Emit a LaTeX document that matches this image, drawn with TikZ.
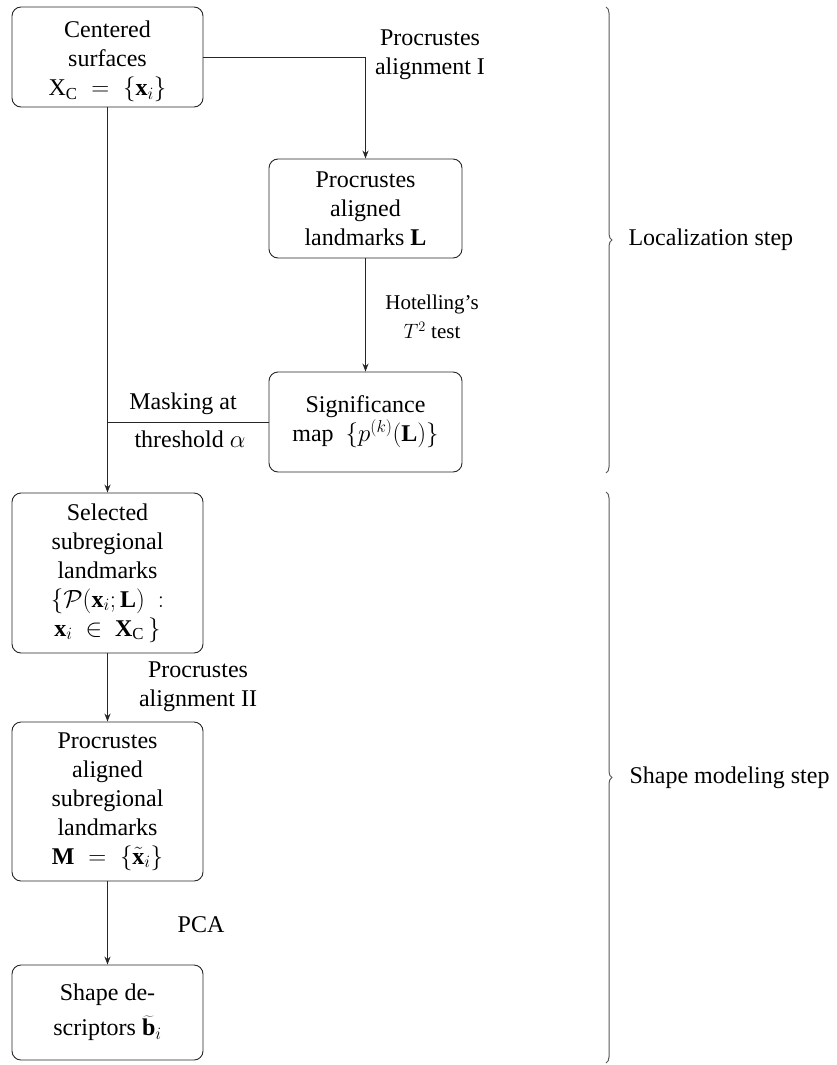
\documentclass[tikz,border=0pt]{standalone}
\usepackage{fontspec}
\setmainfont{Liberation Serif}
\usetikzlibrary{arrows.meta,decorations.pathreplacing,calc}
\begin{document}
\begin{tikzpicture}[x=1pt,y=-1pt,
  box/.style={draw=black!85, rounded corners=9pt, line width=0.9pt, align=center,
    inner sep=0pt, minimum width=191pt, font=\fontsize{24}{29}\selectfont},
  arr/.style={-{Stealth[length=8pt,width=6pt]}, line width=0.9pt, draw=black!85},
  conn/.style={line width=0.9pt, draw=black!85},
  lbl/.style={align=center, font=\fontsize{24}{29}\selectfont},
  slbl/.style={align=center, font=\fontsize{21}{29}\selectfont},
  bracestyle/.style={decorate, decoration={brace, amplitude=6pt}, line width=1pt, draw=black!65}]
\useasboundingbox (0,0) rectangle (837,1065);

% boxes
\node[box, minimum height=100pt] (c) at (107.5,57)
  {\rule{0pt}{26pt}Centered\\surfaces\\$\mathrm{X}_\mathrm{C}\;=\;\{\mathbf{x}_i\}$};
\node[box, minimum width=193pt, minimum height=99pt] (p) at (365.5,208.5)
  {Procrustes\\aligned\\landmarks $\mathbf{L}$};
\node[box, minimum width=193pt, minimum height=100pt] (s) at (365.5,422)
  {Significance\\map\ \ $\{p^{(k)}(\mathbf{L})\}$};
\node[box, minimum height=160pt] (sel) at (107.5,573)
  {Selected\\subregional\\landmarks\\$\{\mathcal{P}(\mathbf{x}_i;\mathbf{L})\ :$\\$\mathbf{x}_i\ \in\ \mathbf{X}_\mathrm{C}\,\}$};
\node[box, minimum height=159pt] (pa) at (107.5,801.5)
  {Procrustes\\aligned\\subregional\\landmarks\\$\mathbf{M}\;=\;\{\tilde{\mathbf{x}}_i\}$};
\node[box, minimum height=95pt] (sd) at (107.5,1012.5)
  {Shape de-\\[6pt]scriptors\ $\widetilde{\mathbf{b}}_i$};

% connectors
\draw[arr] (c.east) -| (p.north);
\node[lbl] (l1) at (430,55) {Procrustes\\alignment I};

\draw[arr] (p.south) -- (s.north);
\node[slbl] (l2) at (432,317) {Hotelling's\\$T^2$ test};

\draw[arr] (c.south) -- (sel.north);
\draw[conn] (s.west) -- (s.west -| c.south)
  node[midway, above=4pt, lbl, xshift=-5pt] (l3) {Masking at}
  node[midway, below=5pt, lbl, xshift=2pt] (l4) {threshold $\alpha$};

\draw[arr] (sel.south) -- (pa.north);
\node[lbl] (l5) at (198,687) {Procrustes\\alignment II};

\draw[arr] (pa.south) -- (sd.north);
\node[lbl] (l6) at (201,925) {PCA};

% braces
\coordinate (b1t) at (606,7);
\coordinate (b1b) at (606,473);
\coordinate (b2t) at (606,492);
\coordinate (b2b) at (606,1063);
\draw[bracestyle] (b1t) -- (b1b);
\draw[bracestyle] (b2t) -- (b2b);
\node[lbl, anchor=west] (loc) at (625,240) {Localization step};
\node[lbl, anchor=west] (shp) at (626,778) {Shape modeling step};
\end{tikzpicture}
\end{document}
